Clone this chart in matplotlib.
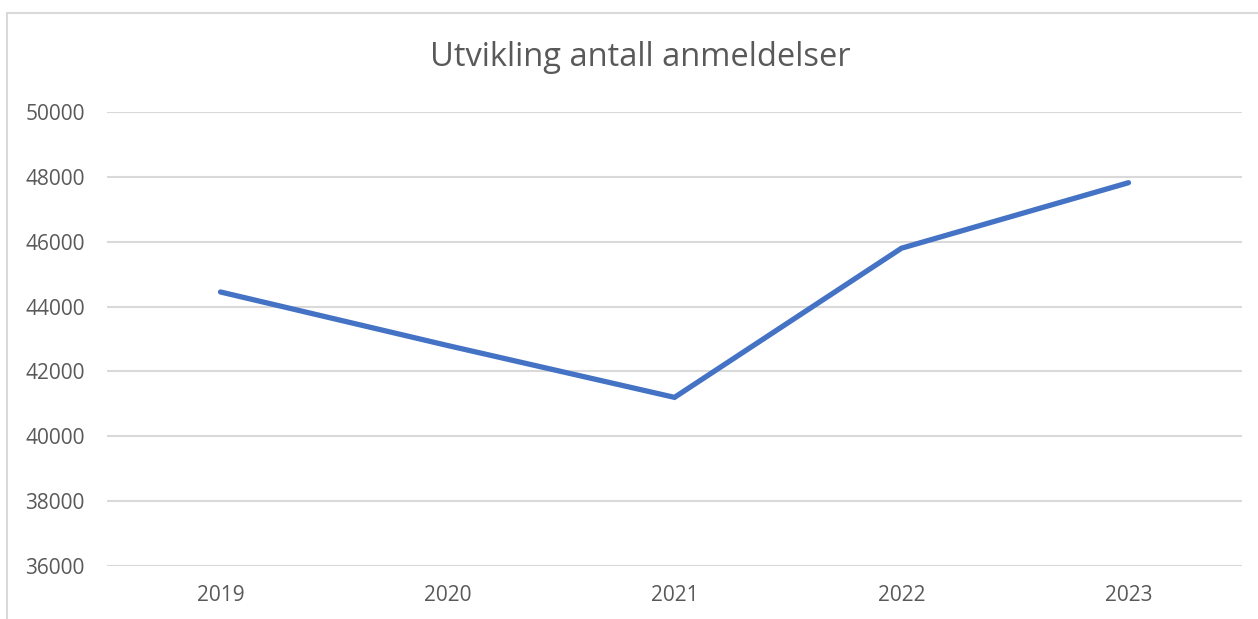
import matplotlib.pyplot as plt
from matplotlib.patches import Rectangle

years = ["2019", "2020", "2021", "2022", "2023"]
anmeldelser = [44450, 42800, 41200, 45800, 47820]
y_ticks = [36000, 38000, 40000, 42000, 44000, 46000, 48000, 50000]

plt.rcParams['font.family'] = ['Open Sans', 'DejaVu Sans']
tekst = '#595959'
grid = '#D9D9D9'

fig = plt.figure(figsize=(12.58, 6.19), dpi=100)
ax = fig.add_axes([107/1258, 1-566/619, (1242-107)/1258, (566-112)/619])

# chart area border (cut off at right/bottom in the reference)
fig.patches.append(Rectangle((7/1258, -0.05), 1.1, 1-13/619+0.05, transform=fig.transFigure,
                             fill=False, edgecolor=grid, linewidth=1.5))

x = list(range(len(years)))
ax.plot(x, anmeldelser, color='#4472C4', linewidth=3.8, solid_capstyle='round',
        solid_joinstyle='miter', zorder=3)

ax.set_xlim(-0.5, len(years) - 0.5)
ax.set_ylim(36000, 50000)
ax.set_yticks(y_ticks)
ax.set_yticklabels([str(v) for v in y_ticks])
ax.set_xticks(x)
ax.set_xticklabels(years)
ax.grid(axis='y', color=grid, linewidth=1.5)
ax.set_axisbelow(True)
for s in ax.spines.values():
    s.set_visible(False)
ax.tick_params(length=0, labelsize=15, colors=tekst)
ax.tick_params(axis='y', pad=16)
ax.tick_params(axis='x', pad=14)

fig.text(640/1258, 1-58/619, "Utvikling antall anmeldelser", ha='center', va='center',
         fontsize=23.5, color=tekst)

fig.savefig('out.png', dpi=100)
